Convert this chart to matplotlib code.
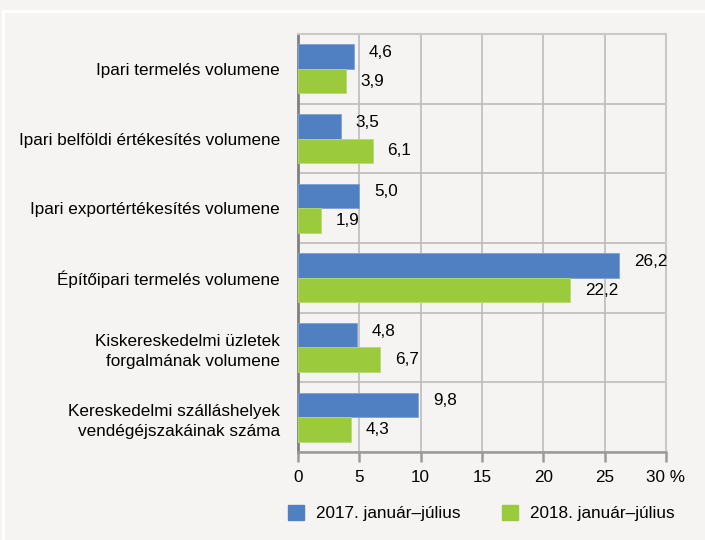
import matplotlib

matplotlib.use("Agg")

import matplotlib.pyplot as plt
from matplotlib.lines import Line2D
from matplotlib.patches import Patch
import numpy as np

plt.rcParams["font.family"] = ["Liberation Sans", "DejaVu Sans"]

CATEGORIES = [
    "Ipari termelés volumene",
    "Ipari belföldi értékesítés volumene",
    "Ipari exportértékesítés volumene",
    "Építőipari termelés volumene",
    "Kiskereskedelmi üzletek\nforgalmának volumene",
    "Kereskedelmi szálláshelyek\nvendégéjszakáinak száma",
]
VALUES_2017 = [4.6, 3.5, 5.0, 26.2, 4.8, 9.8]
VALUES_2018 = [3.9, 6.1, 1.9, 22.2, 6.7, 4.3]
SERIES_LABELS = ["2017. január–július", "2018. január–július"]
X_TICKS = [0, 5, 10, 15, 20, 25, 30]
X_TICK_LABELS = ["0", "5", "10", "15", "20", "25", "30 %"]

BLUE = "#5080c2"
GREEN = "#9bcb3c"
BACKGROUND = "#f5f4f2"
GRID = "#bcbcbc"
FONT_SIZE = 12.3


def fmt(value: float) -> str:
    return f"{value:.1f}".replace(".", ",")


fig = plt.figure(figsize=(7.05, 5.4), dpi=100, facecolor=BACKGROUND)
ax = fig.add_axes([298 / 705, 1 - 452 / 540, 368 / 705, 418 / 540])
ax.set_facecolor(BACKGROUND)

# white frame line round the chart
fig.add_artist(Line2D([3 / 705, 3 / 705], [0, 1 - 11 / 540], transform=fig.transFigure, color="white", linewidth=2))
fig.add_artist(Line2D([3 / 705, 1], [1 - 11 / 540, 1 - 11 / 540], transform=fig.transFigure, color="white", linewidth=2))

centers = np.arange(len(CATEGORIES)) + 0.5
height = 0.35
ax.barh(centers - height / 2, VALUES_2017, height=height, color=BLUE, edgecolor="#7da0d6", linewidth=0.6, zorder=3)
ax.barh(centers + height / 2, VALUES_2018, height=height, color=GREEN, edgecolor="#b5dc6e", linewidth=0.6, zorder=3)

for center, v17, v18 in zip(centers, VALUES_2017, VALUES_2018):
    ax.annotate(fmt(v17), (v17, center - height / 2 - 0.06), xytext=(10.5, 0), textcoords="offset points",
                va="center", ha="left", fontsize=FONT_SIZE, zorder=4)
    ax.annotate(fmt(v18), (v18, center + height / 2), xytext=(10.5, 0), textcoords="offset points",
                va="center", ha="left", fontsize=FONT_SIZE, zorder=4)

ax.set_xlim(0, 30)
ax.set_ylim(len(CATEGORIES), 0)
ax.set_xticks(X_TICKS)
ax.set_xticklabels(X_TICK_LABELS, fontsize=FONT_SIZE)
ax.set_yticks(centers)
ax.set_yticklabels(CATEGORIES, fontsize=FONT_SIZE, linespacing=1.45)
ax.set_yticks(np.arange(len(CATEGORIES) + 1), minor=True)

ax.tick_params(axis="y", which="both", length=0, pad=13)
ax.tick_params(axis="x", direction="out", length=7, width=1.8, color="#9a9a9a", pad=6)
ax.grid(True, axis="x", color=GRID, linewidth=1.2, zorder=0)
ax.grid(True, axis="y", which="minor", color=GRID, linewidth=1.2, zorder=0)

ax.spines["left"].set_color("#808080")
ax.spines["left"].set_linewidth(2)
ax.spines["bottom"].set_color("#9a9a9a")
ax.spines["bottom"].set_linewidth(1.8)
ax.spines["top"].set_color("#c8c8c8")
ax.spines["top"].set_linewidth(1.5)
ax.spines["right"].set_color("#c8c8c8")
ax.spines["right"].set_linewidth(1.5)

handles = [Patch(color=BLUE), Patch(color=GREEN)]
fig.legend(handles, SERIES_LABELS, loc="center left", bbox_to_anchor=(283 / 705, 1 - 513 / 540), ncols=2,
           frameon=False, fontsize=FONT_SIZE, handlelength=0.95, handleheight=0.95, handletextpad=0.7,
           columnspacing=2.4, borderaxespad=0, borderpad=0.3)

fig.savefig("out.png", dpi=100, facecolor=BACKGROUND)
